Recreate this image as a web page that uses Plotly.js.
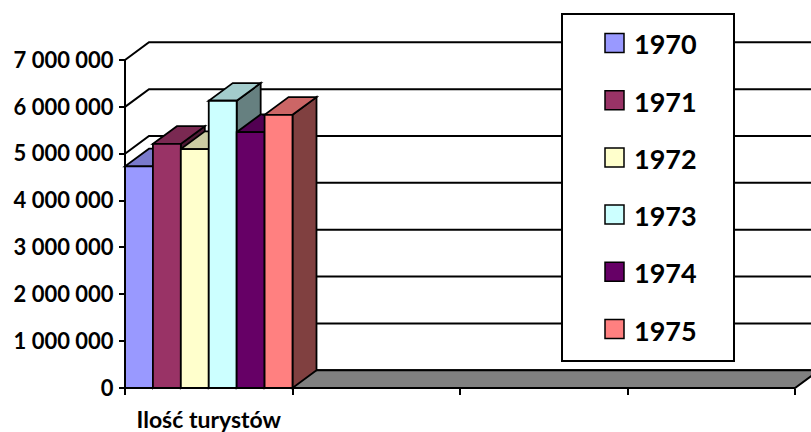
<!DOCTYPE html>
<html>
<head>
<meta charset="utf-8">
<script src="https://cdn.plot.ly/plotly-3.0.1.min.js"></script>
<style>
  html, body { margin: 0; padding: 0; background: #ffffff; }
  #chart { width: 811px; height: 432px; }
</style>
</head>
<body>
<div id="chart"></div>
<script>
// Tourist numbers, one group of columns per year
const category = 'Ilość turystów';
const years = ['1970', '1971', '1972', '1973', '1974', '1975'];
const tourists = [4730000, 5210000, 5100000, 6130000, 5460000, 5830000];
const yearColors = ['#9999FF', '#993366', '#FFFFCC', '#CCFFFF', '#660066', '#FF8080'];
const valueTicks = [0, 1000000, 2000000, 3000000, 4000000, 5000000, 6000000, 7000000];
const categorySlots = [0, 1, 2, 3, 4];

// frame layout in pixels
const W = 811, H = 432;
const plotL = 110, plotR = 811, plotT = 30, plotB = 400;
const originX = 125, originY = 388;   // front corner of the value axis
const slotPx = 167.5;                 // width of one category slot
const unitPx = 328 / 7;               // height of one million
const depthPx = [24, 17.7];           // 3D depth offset (right, up)

const xMin = -(originX - plotL) / slotPx;
const xMax = (plotR - originX) / slotPx;
const yMin = -(plotB - originY) / unitPx * 1e6;
const yMax = (originY - plotT) / unitPx * 1e6;
const dx = depthPx[0] / slotPx;
const dy = depthPx[1] / unitPx * 1e6;
const lastSlot = categorySlots[categorySlots.length - 1];

function shade(hex, k) {
  const n = parseInt(hex.slice(1), 16);
  const r = Math.round(((n >> 16) & 255) * k);
  const g = Math.round(((n >> 8) & 255) * k);
  const b = Math.round((n & 255) * k);
  return 'rgb(' + r + ',' + g + ',' + b + ')';
}
function poly(pts, close) {
  return pts.map((p, i) => (i ? 'L' : 'M') + p[0] + ',' + p[1]).join(' ') + (close ? ' Z' : '');
}

const font = 'Lato, "Open Sans", sans-serif';
const shapes = [];

// back wall and left wall gridlines
valueTicks.forEach(v => {
  shapes.push({
    type: 'path', xref: 'x', yref: 'y', layer: 'below',
    path: poly([[0, v], [dx, v + dy], [xMax + 1, v + dy]], false),
    line: { color: '#000', width: 2 }
  });
});

// floor
shapes.push({
  type: 'path', xref: 'x', yref: 'y', layer: 'below',
  path: poly([[0, 0], [lastSlot, 0], [lastSlot + dx, dy], [dx, dy]], true),
  fillcolor: '#808080', line: { color: '#000', width: 2 }
});

// column sides and tops (fronts are the bar traces, drawn above)
const n = years.length;
const barW = 1 / n;
tourists.forEach((v, i) => {
  const xl = i * barW, xr = (i + 1) * barW;
  shapes.push({
    type: 'path', xref: 'x', yref: 'y', layer: 'below',
    path: poly([[xr, 0], [xr, v], [xr + dx, v + dy], [xr + dx, dy]], true),
    fillcolor: shade(yearColors[i], 0.5), line: { color: '#000', width: 1.8 }
  });
  shapes.push({
    type: 'path', xref: 'x', yref: 'y', layer: 'below',
    path: poly([[xl, v], [xr, v], [xr + dx, v + dy], [xl + dx, v + dy]], true),
    fillcolor: shade(yearColors[i], 0.8), line: { color: '#000', width: 1.8 }
  });
});

// axis lines
shapes.push({ type: 'line', xref: 'x', yref: 'y', layer: 'above',
  x0: 0, x1: 0, y0: 0, y1: valueTicks[valueTicks.length - 1], line: { color: '#000', width: 2 } });
shapes.push({ type: 'line', xref: 'x', yref: 'y', layer: 'above',
  x0: 0, x1: lastSlot, y0: 0, y1: 0, line: { color: '#000', width: 2 } });

// legend box
const px = x => (x - plotL) / (plotR - plotL);
const py = y => (plotB - y) / (plotB - plotT);
const annotations = [];
shapes.push({ type: 'rect', xref: 'paper', yref: 'paper', layer: 'above',
  x0: px(562), x1: px(734), y0: py(361), y1: py(14),
  fillcolor: '#fff', line: { color: '#000', width: 2 } });
years.forEach((yr, i) => {
  const cy = 43 + i * 57.2;
  shapes.push({ type: 'rect', xref: 'paper', yref: 'paper', layer: 'above',
    x0: px(605), x1: px(624), y0: py(cy + 9.5), y1: py(cy - 9.5),
    fillcolor: yearColors[i], line: { color: '#000', width: 1.5 } });
  annotations.push({ xref: 'paper', yref: 'paper', x: px(632), y: py(cy + 1),
    xanchor: 'left', yanchor: 'middle', showarrow: false, text: yr,
    font: { family: font, size: 27, weight: 'bold', color: '#000' } });
});

const traces = tourists.map((v, i) => ({
  type: 'bar', name: years[i],
  x: [0.5], y: [v], width: [barW], offset: [-0.5 + i * barW],
  marker: { color: yearColors[i], line: { color: '#000', width: 1.8 } },
  showlegend: false,
  hovertemplate: years[i] + ': %{y:,d}<extra></extra>'
}));

const layout = {
  width: W, height: H, autosize: false,
  margin: { l: plotL, r: W - plotR, t: plotT, b: H - plotB, pad: 0 },
  paper_bgcolor: '#fff', plot_bgcolor: 'rgba(0,0,0,0)',
  separators: ', ',
  barmode: 'overlay',
  showlegend: false,
  font: { family: font, color: '#000' },
  xaxis: {
    range: [xMin, xMax], domain: [0, 1], anchor: 'free',
    position: (plotB - originY) / (plotB - plotT),
    tickmode: 'array', tickvals: [0.5], ticktext: [category], ticks: '',
    ticklabelstandoff: 16,
    minor: { tickmode: 'array', tickvals: categorySlots, ticks: 'outside', ticklen: 6, tickwidth: 2, tickcolor: '#000', showgrid: false },
    showgrid: false, zeroline: false, showline: false, fixedrange: true,
    tickfont: { family: font, size: 23, weight: 'bold', color: '#000' }
  },
  yaxis: {
    range: [yMin, yMax], domain: [0, 1], anchor: 'free',
    position: (originX - plotL) / (plotR - plotL),
    tickmode: 'array', tickvals: valueTicks, tickformat: ',d',
    ticks: 'outside', ticklen: 6, tickwidth: 2, tickcolor: '#000',
    ticklabelstandoff: 1,
    showgrid: false, zeroline: false, showline: false, fixedrange: true,
    tickfont: { family: font, size: 22, weight: 'bold', color: '#000' }
  },
  shapes: shapes,
  annotations: annotations
};

Plotly.newPlot('chart', traces, layout, { staticPlot: true, displayModeBar: false });
</script>
</body>
</html>
